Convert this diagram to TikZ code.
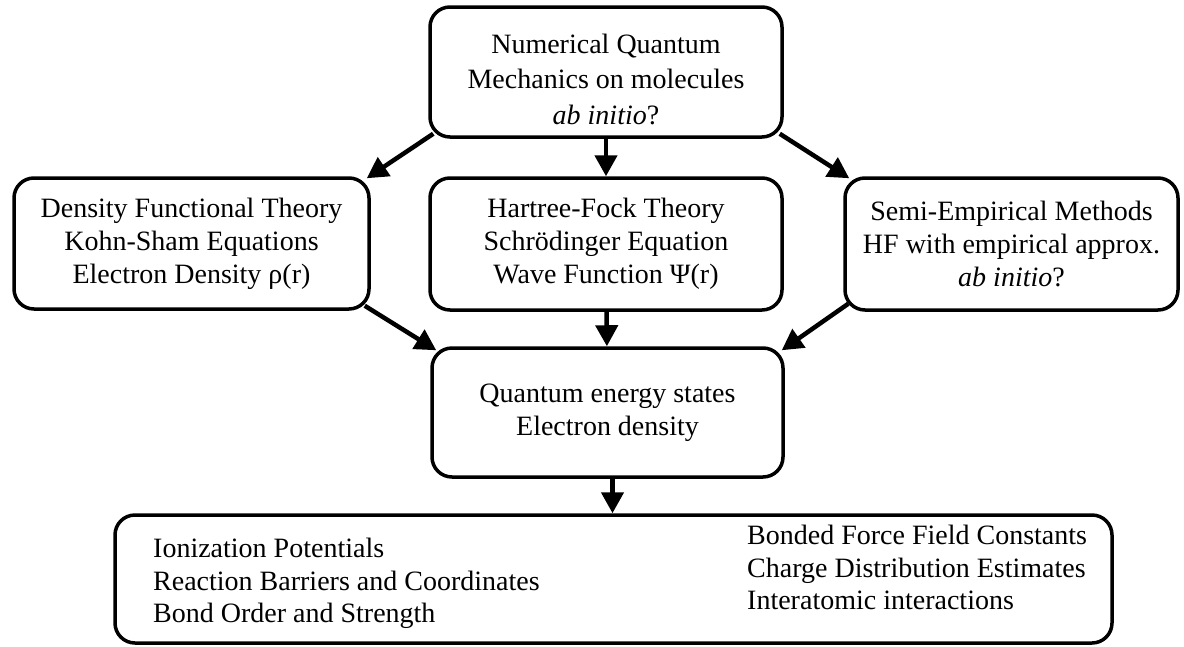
\documentclass[tikz,border=0pt]{standalone}
\usepackage{fontspec}
\setmainfont{Liberation Serif}
\usetikzlibrary{arrows.meta}
\tikzset{
    box/.style={draw, line width=3.5pt, rounded corners=20pt, align=center,
        font=\fontsize{28}{33}\selectfont, inner sep=0pt},
    arr/.style={line width=4.5pt, -{Triangle[length=21pt, width=22pt]}},
    col/.style={align=left, anchor=north west, inner sep=0pt,
        font=\fontsize{28}{32.5}\selectfont}
}
\begin{document}
\begin{tikzpicture}[x=1pt, y=-1pt]
    \useasboundingbox (0,0) rectangle (1184,646);
    % Draw the top box
    \node[box, minimum width=352, minimum height=130, font=\fontsize{28}{35.5}\selectfont] (nqm) at (606, 72)
        {\rule{0pt}{34pt}Numerical Quantum\\Mechanics on molecules\\\textit{ab initio}?};

    % Draw the three method boxes
    \node[box, minimum width=355, minimum height=131] (dft) at (191.5, 243.5)
        {Density Functional Theory\\Kohn-Sham Equations\\Electron Density ρ(r)};
    \node[box, minimum width=352, minimum height=132] (hf) at (606, 244)
        {Hartree-Fock Theory\\Schrödinger Equation\\Wave Function Ψ(r)};
    \node[box, minimum width=333, minimum height=132] (semi) at (1011.5, 244)
        {Semi-Empirical Methods\\HF with empirical approx.\\\textit{ab initio}?};

    % Draw the result box
    \node[box, minimum width=351, minimum height=129] (qes) at (607.5, 412.5)
        {Quantum energy states\\Electron density};

    % Draw the bottom box and its two columns
    \node[box, minimum width=997, minimum height=128] (props) at (613.5, 579) {};
    \node[col] (propl) at (153, 538)
        {Ionization Potentials\\Reaction Barriers and Coordinates\\Bond Order and Strength};
    \node[col] (propr) at (747, 525)
        {Bonded Force Field Constants\\Charge Distribution Estimates\\Interatomic interactions};

    % Draw arrows
    \draw[arr] ([xshift=5pt, yshift=5pt]nqm.south west) -- ([xshift=-4pt, yshift=-2pt]dft.north east);
    \draw[arr] (nqm) -- (hf);
    \draw[arr] ([xshift=-4pt, yshift=5pt]nqm.south east) -- ([xshift=6pt, yshift=-2pt]semi.north west);
    \draw[arr] ([xshift=-6pt, yshift=5pt]dft.south east) -- ([xshift=6pt, yshift=-4pt]qes.north west);
    \draw[arr] (hf) -- (qes);
    \draw[arr] ([xshift=5pt, yshift=8pt]semi.south west) -- ([xshift=-3pt, yshift=-4pt]qes.north east);
    \draw[arr] ([xshift=5pt]qes.south) -- ([xshift=5pt]props.north -| qes.south);
\end{tikzpicture}
\end{document}
